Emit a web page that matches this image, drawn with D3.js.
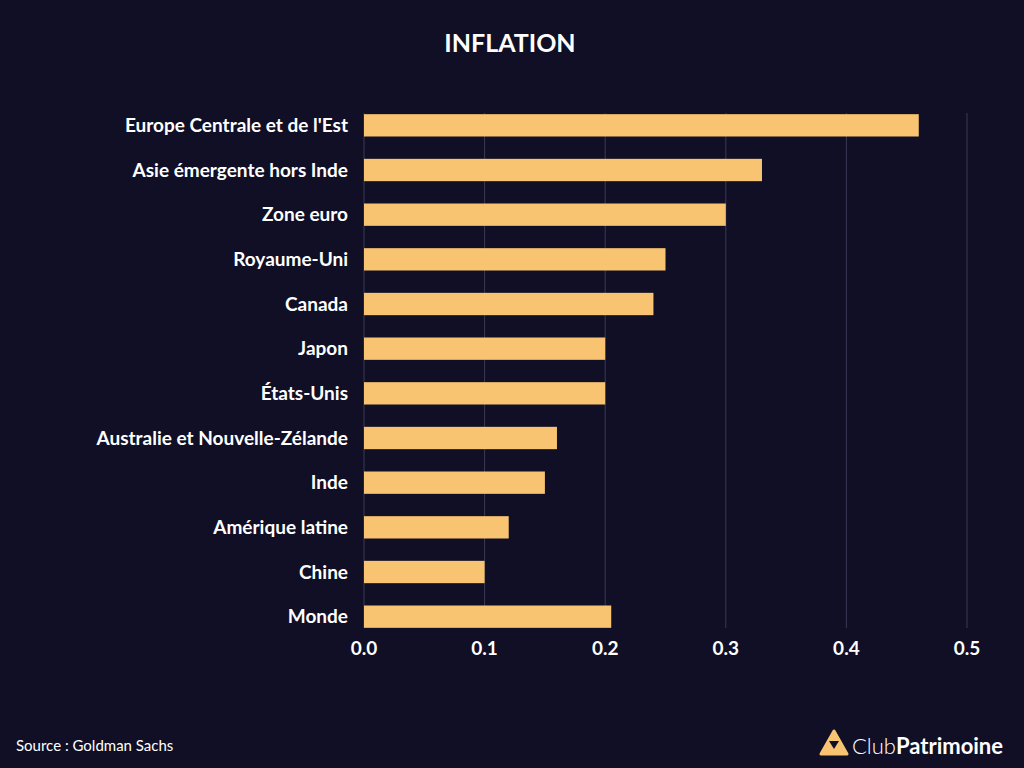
<!DOCTYPE html><html><head><meta charset="utf-8">
<script src="https://cdn.jsdelivr.net/npm/d3@7"></script>
<style>body{margin:0;background:#100f26}text{font-family:Lato,"Open Sans",sans-serif}</style></head><body>
<svg id="c" width="1024" height="768"></svg>
<script>
const categories=["Europe Centrale et de l'Est","Asie émergente hors Inde","Zone euro","Royaume-Uni","Canada","Japon","États-Unis","Australie et Nouvelle-Zélande","Inde","Amérique latine","Chine","Monde"];
const values=[0.46,0.33,0.30,0.25,0.24,0.20,0.20,0.16,0.15,0.12,0.10,0.205];
const ticks=[0,0.1,0.2,0.3,0.4,0.5];
const svg=d3.select("#c");
svg.append("rect").attr("width",1024).attr("height",768).attr("fill","#100f26");
const x=d3.scaleLinear().domain([0,0.5]).range([364,967]);
const y=d3.scaleBand().domain(categories).range([103,639]).paddingInner(0.5).paddingOuter(0.25);
svg.append("g").selectAll("line").data(ticks.slice(1)).join("line")
 .attr("x1",d=>x(d)).attr("x2",d=>x(d)).attr("y1",113).attr("y2",628).attr("stroke","#3a3a55").attr("stroke-width",1);
svg.append("line").attr("x1",x(0)).attr("x2",x(0)).attr("y1",113).attr("y2",628).attr("stroke","#3a3a55");
svg.append("g").selectAll("rect").data(values).join("rect")
 .attr("x",x(0)).attr("y",(d,i)=>y(categories[i])).attr("width",d=>x(d)-x(0)).attr("height",y.bandwidth()).attr("fill","#f8c471");
svg.append("g").selectAll("text").data(categories).join("text")
 .attr("x",348).attr("y",d=>y(d)+y.bandwidth()/2).attr("dy","0.35em").attr("text-anchor","end")
 .attr("fill","#fff").attr("font-weight","bold").attr("font-size",19).text(d=>d);
svg.append("g").selectAll("text").data(ticks).join("text")
 .attr("x",d=>x(d)).attr("y",655).attr("text-anchor","middle").attr("fill","#fff").attr("font-weight","bold").attr("font-size",19).text(d=>d.toFixed(1));
svg.append("text").attr("x",510).attr("y",52).attr("text-anchor","middle").attr("fill","#fff").attr("font-weight","bold").attr("font-size",25).text("INFLATION");
svg.append("text").attr("x",16).attr("y",751).attr("fill","#fff").attr("font-size",15).text("Source : Goldman Sachs");
const lg=svg.append("g");
lg.append("path").attr("d","M834,731 L821,754 L847,754 Z").attr("fill","#f8c471").attr("stroke","#f8c471").attr("stroke-linejoin","round").attr("stroke-width",3);
lg.append("path").attr("d","M829,741 L839,741 L834,749 Z").attr("fill","#100f26");
const t=lg.append("text").attr("x",852).attr("y",754).attr("fill","#fff").attr("font-size",22);
t.append("tspan").attr("font-weight","300").text("Club");
t.append("tspan").attr("font-weight","bold").text("Patrimoine");
</script></body></html>
